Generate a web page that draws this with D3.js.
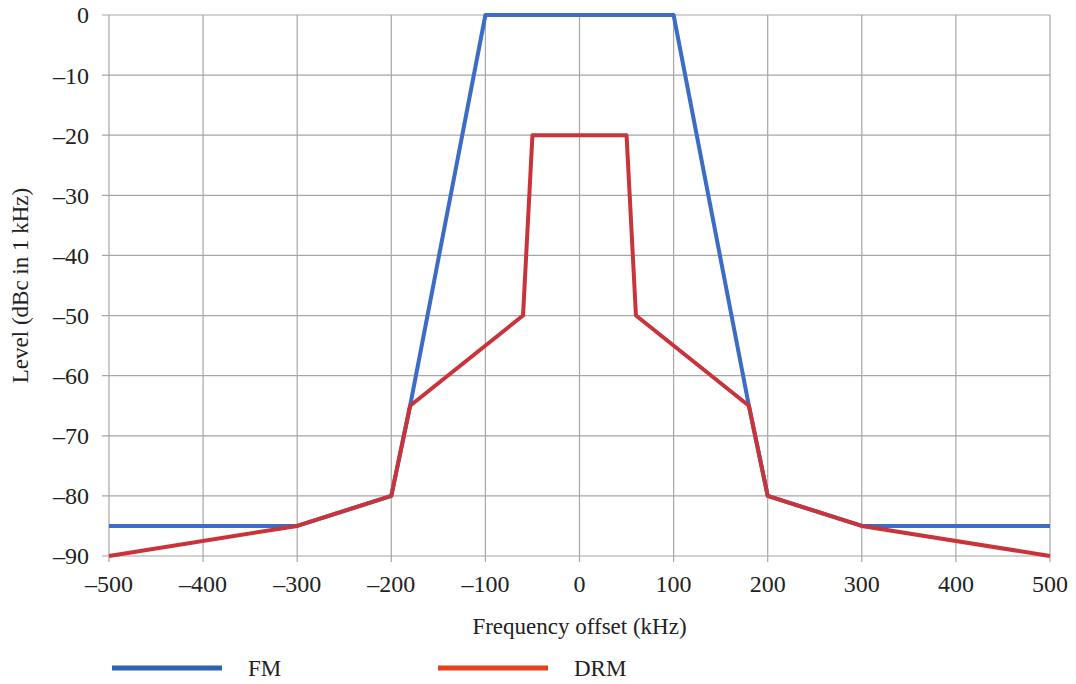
<!DOCTYPE html>
<html>
<head>
<meta charset="utf-8">
<script src="https://cdn.jsdelivr.net/npm/d3@7"></script>
<style>
  body { margin: 0; background: #fff; }
  text { font-family: "Liberation Serif", "Times New Roman", serif; fill: #222; }
</style>
</head>
<body>
<div id="chart"></div>
<script>
// Data
var fmFreq = [-500, -300, -200, -180, -100, 100, 180, 200, 300, 500];
var fmLevel = [-85, -85, -80, -65, 0, 0, -65, -80, -85, -85];
var drmFreq = [-500, -300, -200, -180, -60, -50, 50, 60, 180, 200, 300, 500];
var drmLevel = [-90, -85, -80, -65, -50, -20, -20, -50, -65, -80, -85, -90];
var xTicks = [-500, -400, -300, -200, -100, 0, 100, 200, 300, 400, 500];
var yTicks = [0, -10, -20, -30, -40, -50, -60, -70, -80, -90];

var width = 1076;
var height = 684;
var m = { left: 109, right: 26, top: 15, bottom: 128 };

var svg = d3.select("#chart").append("svg")
    .attr("width", width)
    .attr("height", height);

var x = d3.scaleLinear().domain([-500, 500]).range([m.left, width - m.right]);
var y = d3.scaleLinear().domain([-90, 0]).range([height - m.bottom, m.top]);

function fmt(v) { return v < 0 ? "\u2013" + Math.abs(v) : "" + v; }

// Grid lines
svg.append("g").selectAll("line.v")
    .data(xTicks)
    .enter().append("line")
    .attr("x1", d => x(d)).attr("x2", d => x(d))
    .attr("y1", y(0)).attr("y2", y(-90) + 6)
    .attr("stroke", "#a6a6a6").attr("stroke-width", 1.2);

svg.append("g").selectAll("line.h")
    .data(yTicks)
    .enter().append("line")
    .attr("x1", x(-500) - 7).attr("x2", x(500))
    .attr("y1", d => y(d)).attr("y2", d => y(d))
    .attr("stroke", "#a6a6a6").attr("stroke-width", 1.2);

// Tick labels
svg.append("g").selectAll("text")
    .data(yTicks)
    .enter().append("text")
    .attr("x", x(-500) - 20)
    .attr("y", d => y(d))
    .attr("dy", "0.35em")
    .attr("text-anchor", "end")
    .style("font-size", "24px")
    .text(fmt);

svg.append("g").selectAll("text")
    .data(xTicks)
    .enter().append("text")
    .attr("x", d => x(d))
    .attr("y", y(-90) + 36)
    .attr("text-anchor", "middle")
    .style("font-size", "24px")
    .text(fmt);

// Axis titles
svg.append("text")
    .attr("transform", "translate(28," + y(-45) + ") rotate(-90)")
    .attr("text-anchor", "middle")
    .style("font-size", "23px")
    .text("Level (dBc in 1 kHz)");

svg.append("text")
    .attr("x", x(0))
    .attr("y", 634)
    .attr("text-anchor", "middle")
    .style("font-size", "23px")
    .text("Frequency offset (kHz)");

// Series
var line = d3.line()
    .x(d => x(d[0]))
    .y(d => y(d[1]));

svg.append("path")
    .datum(d3.zip(fmFreq, fmLevel))
    .attr("d", line)
    .attr("fill", "none")
    .attr("stroke", "#3b6cc6")
    .attr("stroke-width", 4)
    .attr("stroke-linejoin", "round");

svg.append("path")
    .datum(d3.zip(drmFreq, drmLevel))
    .attr("d", line)
    .attr("fill", "none")
    .attr("stroke", "#c9343a")
    .attr("stroke-width", 4)
    .attr("stroke-linejoin", "round");

// Legend
var legend = [
    { name: "FM", color: "#2d62b2", x: 112 },
    { name: "DRM", color: "#e8401c", x: 438 }
];
var lg = svg.append("g").selectAll("g")
    .data(legend)
    .enter().append("g")
    .attr("transform", d => "translate(" + d.x + ",668)");

lg.append("line")
    .attr("x1", 0).attr("x2", 110)
    .attr("stroke", d => d.color)
    .attr("stroke-width", 5);

lg.append("text")
    .attr("x", 136)
    .attr("dy", "0.35em")
    .style("font-size", "23px")
    .text(d => d.name);
</script>
</body>
</html>
